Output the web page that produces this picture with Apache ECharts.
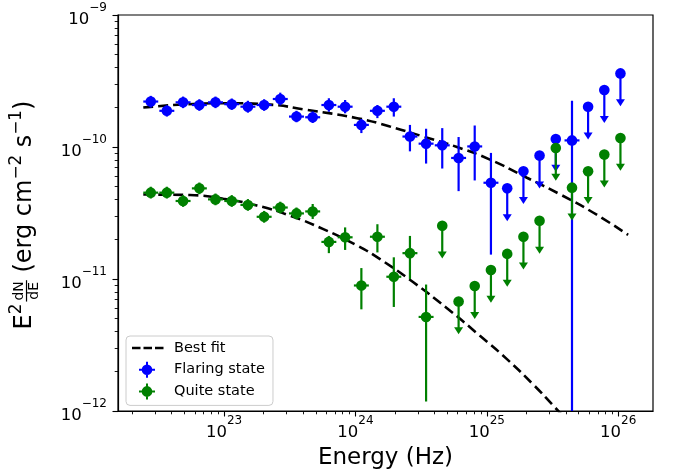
<!DOCTYPE html>
<html>
<head>
<meta charset="utf-8">
<script src="https://cdn.jsdelivr.net/npm/echarts@6/dist/echarts.min.js"></script>
<style>
  html, body { margin: 0; padding: 0; background: #ffffff; }
  #chart { width: 676px; height: 475px; }
</style>
</head>
<body>
<div id="chart"></div>
<script>
// ---- Spectral energy distribution data ----
// Bin centres (Hz), shared by both states
const energy = [
  2.77e22, 3.67e22, 4.88e22, 6.49e22, 8.61e22, 1.145e23, 1.52e23, 2.02e23, 2.68e23, 3.56e23,
  4.73e23, 6.28e23, 8.35e23, 1.11e24, 1.47e24, 1.96e24, 2.60e24, 3.45e24, 4.58e24, 6.10e24,
  8.09e24, 1.075e25, 1.43e25, 1.90e25, 2.52e25, 3.35e25, 4.45e25, 5.90e25, 7.84e25, 1.04e26
];

// Flaring state: E^2 dN/dE, with lower / upper error bounds (null = upper limit)
const flaringFlux = [
  2.21e-10, 1.88e-10, 2.18e-10, 2.08e-10, 2.18e-10, 2.11e-10, 2.02e-10, 2.08e-10, 2.31e-10, 1.70e-10,
  1.68e-10, 2.08e-10, 2.02e-10, 1.47e-10, 1.88e-10, 2.02e-10, 1.20e-10, 1.06e-10, 1.03e-10, 8.26e-11,
  1.01e-10, 5.36e-11, 4.86e-11, 6.55e-11, 8.61e-11, 1.149e-10, 1.122e-10, 2.02e-10, 2.70e-10, 3.61e-10
];
const flaringLo = [
  1.99e-10, 1.70e-10, 1.97e-10, 1.88e-10, 1.97e-10, 1.91e-10, 1.82e-10, 1.88e-10, 2.07e-10, 1.54e-10,
  1.52e-10, 1.85e-10, 1.80e-10, 1.275e-10, 1.655e-10, 1.70e-10, 9.27e-11, 7.49e-11, 6.87e-11, 4.63e-11,
  5.58e-11, 1.53e-11, null, null, null, null, 1e-13, null, null, null
];
const flaringHi = [
  2.44e-10, 2.07e-10, 2.41e-10, 2.30e-10, 2.41e-10, 2.33e-10, 2.24e-10, 2.30e-10, 2.58e-10, 1.88e-10,
  1.86e-10, 2.34e-10, 2.27e-10, 1.63e-10, 2.08e-10, 2.34e-10, 1.47e-10, 1.375e-10, 1.39e-10, 1.19e-10,
  1.455e-10, 9.02e-11, null, null, null, null, 2.245e-10, null, null, null
];

// Quiescent state
const quiteFlux = [
  4.51e-11, 4.51e-11, 3.90e-11, 4.86e-11, 4.01e-11, 3.90e-11, 3.64e-11, 2.96e-11, 3.48e-11, 3.14e-11,
  3.25e-11, 1.91e-11, 2.07e-11, 8.93e-12, 2.09e-11, 1.04e-11, 1.57e-11, 5.16e-12, 2.53e-11, 6.76e-12,
  8.84e-12, 1.17e-11, 1.55e-11, 2.09e-11, 2.76e-11, 9.83e-11, 4.92e-11, 6.55e-11, 8.76e-11, 1.17e-10
];
const quiteLo = [
  4.07e-11, 4.07e-11, 3.52e-11, 4.39e-11, 3.62e-11, 3.52e-11, 3.29e-11, 2.67e-11, 3.14e-11, 2.83e-11,
  2.85e-11, 1.57e-11, 1.66e-11, 5.89e-12, 1.59e-11, 6.14e-12, 1.00e-11, 1.18e-12, null, null,
  null, null, null, null, null, null, null, null, null, null
];
const quiteHi = [
  5.00e-11, 5.00e-11, 4.32e-11, 5.38e-11, 4.44e-11, 4.32e-11, 4.03e-11, 3.28e-11, 3.85e-11, 3.48e-11,
  3.70e-11, 2.12e-11, 2.46e-11, 1.21e-11, 2.60e-11, 1.46e-11, 2.12e-11, 9.08e-12, null, null,
  null, null, null, null, null, null, null, null, null, null
];

// Best-fit model curves
const fitFlaringEnergy = [2.43e22, 4.88e22, 1.11e23, 2.24e23, 4.26e23, 1.03e24, 1.83e24, 3.27e24, 5.93e24, 1.057e25, 2.02e25, 3.61e25, 6.43e25, 1.19e26];
const fitFlaringFlux   = [1.99e-10, 2.10e-10, 2.145e-10, 2.094e-10, 1.91e-10, 1.654e-10, 1.43e-10, 1.202e-10, 1.0e-10, 8.03e-11, 5.85e-11, 4.38e-11, 3.19e-11, 2.16e-11];
const fitQuiteEnergy   = [2.43e22, 5.51e22, 9.88e22, 1.775e23, 3.18e23, 5.70e23, 1.023e24, 1.54e24, 2.76e24, 4.95e24, 8.87e24, 1.416e25, 2.26e25, 3.21e25, 3.98e25];
const fitQuiteFlux     = [4.365e-11, 4.325e-11, 4.055e-11, 3.606e-11, 3.02e-11, 2.388e-11, 1.799e-11, 1.413e-11, 9.44e-12, 6.03e-12, 3.715e-12, 2.483e-12, 1.585e-12, 1.096e-12, 8.71e-13];

// Axis ticks
const xMajorTicks = [1e23, 1e24, 1e25, 1e26];
const xMinorTicks = [
  2e22, 3e22, 4e22, 5e22, 6e22, 7e22, 8e22, 9e22,
  2e23, 3e23, 4e23, 5e23, 6e23, 7e23, 8e23, 9e23,
  2e24, 3e24, 4e24, 5e24, 6e24, 7e24, 8e24, 9e24,
  2e25, 3e25, 4e25, 5e25, 6e25, 7e25, 8e25, 9e25
];
const yMajorTicks = [1e-12, 1e-11, 1e-10, 1e-9];
const yMinorTicks = [
  2e-12, 3e-12, 4e-12, 5e-12, 6e-12, 7e-12, 8e-12, 9e-12,
  2e-11, 3e-11, 4e-11, 5e-11, 6e-11, 7e-11, 8e-11, 9e-11,
  2e-10, 3e-10, 4e-10, 5e-10, 6e-10, 7e-10, 8e-10, 9e-10
];
const X_MIN = 1.56e22, X_MAX = 1.84e26;
const Y_MIN = 1e-12, Y_MAX = 1e-9;

// Upper-limit arrows span a fixed fraction of the flux; energy bars span half a bin
const UL_ARROW_RATIO = 0.564;
const HALF_BIN_FACTOR = 1.14;

const FONT = 'DejaVu Sans';
const BLUE = '#0000ff';
const GREEN = '#008000';

function pointsFor(flux, lo, hi) {
  return energy.map((e, i) => [
    e, flux[i],
    lo[i] == null ? flux[i] : lo[i],
    hi[i] == null ? flux[i] : hi[i],
    lo[i] == null ? 1 : 0
  ]);
}

function renderErrorPoint(params, api) {
  const color = api.visual('color');
  const e = api.value(0), f = api.value(1), lo = api.value(2), hi = api.value(3), ul = api.value(4);
  const c = api.coord([e, f]);
  const lw = 2.2;
  const kids = [];
  if (ul) {
    const tip = api.coord([e, f * UL_ARROW_RATIO]);
    kids.push({ type: 'line', shape: { x1: c[0], y1: c[1], x2: tip[0], y2: tip[1] - 5 },
      style: { stroke: color, lineWidth: lw } });
    kids.push({ type: 'polygon',
      shape: { points: [[tip[0] - 4.5, tip[1] - 7], [tip[0] + 4.5, tip[1] - 7], [tip[0], tip[1]]] },
      style: { fill: color } });
  } else {
    const a = api.coord([e, lo]), b = api.coord([e, hi]);
    const l = api.coord([e / HALF_BIN_FACTOR, f]), r = api.coord([e * HALF_BIN_FACTOR, f]);
    kids.push({ type: 'line', shape: { x1: a[0], y1: a[1], x2: b[0], y2: b[1] },
      style: { stroke: color, lineWidth: lw } });
    kids.push({ type: 'line', shape: { x1: l[0], y1: l[1], x2: r[0], y2: r[1] },
      style: { stroke: color, lineWidth: lw } });
  }
  kids.push({ type: 'circle', shape: { cx: c[0], cy: c[1], r: 5.3 }, style: { fill: color } });
  return { type: 'group', children: kids };
}

function powerLabel(value) {
  const p = Math.round(Math.log10(value));
  return '{b|10}{s|' + (p < 0 ? '\u2212' + (-p) : String(p)) + '}';
}
const powerRich = {
  b: { fontSize: 16.5, fontFamily: FONT, color: '#000', verticalAlign: 'bottom', lineHeight: 26 },
  s: { fontSize: 12, fontFamily: FONT, color: '#000', verticalAlign: 'top', lineHeight: 14 }
};

const axisLineStyle = { color: '#000', width: 1.2 };

// Y-axis title: E^2 dN/dE (erg cm^-2 s^-1), laid out along a rotated group
const measureCtx = document.createElement('canvas').getContext('2d');
function textWidth(str, size) {
  measureCtx.font = size + 'px "' + FONT + '"';
  return measureCtx.measureText(str).width;
}
function buildYTitle(centerX, centerY) {
  const F = 24, S = 16.8, FR = 14;
  const MID = 0.346;           // canvas 'middle' offset above the baseline, in em
  const RISE = 0.42 * F;       // superscript baseline shift
  const kids = [];
  let u = 0;
  function run(str, size, rise) {
    kids.push({ type: 'text', x: u, y: -rise - MID * size,
      style: { text: str, fontSize: size, fontFamily: FONT, fill: '#000', align: 'left', verticalAlign: 'middle' } });
    u += textWidth(str, size);
  }
  run('E', F, 0);
  run('2', S, RISE);
  u += 2;
  const wNum = textWidth('dN', FR), wDen = textWidth('dE', FR);
  const wFrac = Math.max(wNum, wDen) + 2;
  const bar = -0.27 * F;
  kids.push({ type: 'rect', shape: { x: u, y: bar - 0.6, width: wFrac, height: 1.2 }, style: { fill: '#000' } });
  kids.push({ type: 'text', x: u + wFrac / 2, y: bar - 2.5 - MID * FR,
    style: { text: 'dN', fontSize: FR, fontFamily: FONT, fill: '#000', align: 'center', verticalAlign: 'middle' } });
  kids.push({ type: 'text', x: u + wFrac / 2, y: bar + 2.5 + 0.729 * FR - MID * FR,
    style: { text: 'dE', fontSize: FR, fontFamily: FONT, fill: '#000', align: 'center', verticalAlign: 'middle' } });
  u += wFrac;
  run(' (erg cm', F, 0);
  run('\u22122', S, RISE);
  run(' s', F, 0);
  run('\u22121', S, RISE);
  run(')', F, 0);
  return { type: 'group', x: centerX, y: centerY + u / 2, rotation: Math.PI / 2, children: kids, silent: true };
}

const ICON_DASH = 'path://M0,0M37,16M0,6.7h8.5v2.6h-8.5zM11.5,6.7h8.5v2.6h-8.5zM23,6.7h8.5v2.6h-8.5z';
const ICON_MARK = 'path://M0,0M37,16M20.3,8a5.3,5.3 0 1,1 -10.6,0a5.3,5.3 0 1,1 10.6,0zM7,7h16v2h-16zM14,0h2v16h-2z';

const fitLine = { width: 2.6, color: '#000', type: [10, 5] };

const chart = echarts.init(document.getElementById('chart'), null, { renderer: 'canvas' });
chart.setOption({
  animation: false,
  backgroundColor: '#ffffff',
  grid: { left: 118, right: 23, top: 15, bottom: 62, show: true, borderColor: '#000', borderWidth: 1.2, backgroundColor: 'transparent' },
  legend: {
    orient: 'vertical', left: 126, top: 336,
    data: [
      { name: 'Best fit', icon: ICON_DASH },
      { name: 'Flaring state', icon: ICON_MARK },
      { name: 'Quite state', icon: ICON_MARK }
    ],
    itemWidth: 37, itemHeight: 16, itemGap: 5.7,
    padding: [4, 8, 6, 6],
    backgroundColor: 'rgba(255,255,255,0.8)', borderColor: '#cccccc', borderWidth: 1, borderRadius: 4,
    textStyle: { fontSize: 14.5, fontFamily: FONT, color: '#000' },
    itemStyle: { borderWidth: 0 },
    selectedMode: false
  },
  xAxis: [
    {
      type: 'log', logBase: 10, min: X_MIN, max: X_MAX,
      name: 'Energy (Hz)', nameLocation: 'middle', nameGap: 36,
      nameTextStyle: { fontSize: 23, fontFamily: FONT, color: '#000' },
      axisLine: { show: true, onZero: false, lineStyle: axisLineStyle },
      axisTick: { show: true, inside: false, length: 5.5, customValues: xMajorTicks, lineStyle: { color: '#000', width: 1.1 } },
      axisLabel: { show: true, customValues: xMajorTicks, formatter: powerLabel, rich: powerRich, margin: 4 },
      splitLine: { show: false }, minorTick: { show: false }
    },
    {
      type: 'log', logBase: 10, min: X_MIN, max: X_MAX, position: 'bottom',
      axisLine: { show: false },
      axisTick: { show: true, inside: false, length: 3.3, customValues: xMinorTicks, lineStyle: { color: '#000', width: 0.9 } },
      axisLabel: { show: false }, splitLine: { show: false }
    }
  ],
  yAxis: [
    {
      type: 'log', logBase: 10, min: Y_MIN, max: Y_MAX,
      axisLine: { show: true, onZero: false, lineStyle: axisLineStyle },
      axisTick: { show: true, inside: false, length: 5.5, customValues: yMajorTicks, lineStyle: { color: '#000', width: 1.1 } },
      axisLabel: { show: true, customValues: yMajorTicks, formatter: powerLabel, rich: powerRich, margin: 11 },
      splitLine: { show: false }, minorTick: { show: false }
    },
    {
      type: 'log', logBase: 10, min: Y_MIN, max: Y_MAX, position: 'left',
      axisLine: { show: false },
      axisTick: { show: true, inside: false, length: 3.3, customValues: yMinorTicks, lineStyle: { color: '#000', width: 0.9 } },
      axisLabel: { show: false }, splitLine: { show: false }
    }
  ],
  graphic: [buildYTitle(33, 215)],
  series: [
    {
      name: 'Best fit', type: 'line', xAxisIndex: 0, yAxisIndex: 0,
      data: fitFlaringEnergy.map((e, i) => [e, fitFlaringFlux[i]]),
      smooth: true, symbol: 'none', clip: true, z: 2,
      lineStyle: fitLine, itemStyle: { color: '#000' }
    },
    {
      name: 'Best fit', type: 'line', xAxisIndex: 0, yAxisIndex: 0,
      data: fitQuiteEnergy.map((e, i) => [e, fitQuiteFlux[i]]),
      smooth: true, symbol: 'none', clip: true, z: 2,
      lineStyle: fitLine, itemStyle: { color: '#000' }
    },
    {
      name: 'Flaring state', type: 'custom', xAxisIndex: 0, yAxisIndex: 0,
      data: pointsFor(flaringFlux, flaringLo, flaringHi),
      encode: { x: 0, y: 1 }, renderItem: renderErrorPoint, clip: true, z: 3,
      itemStyle: { color: BLUE }
    },
    {
      name: 'Quite state', type: 'custom', xAxisIndex: 0, yAxisIndex: 0,
      data: pointsFor(quiteFlux, quiteLo, quiteHi),
      encode: { x: 0, y: 1 }, renderItem: renderErrorPoint, clip: true, z: 4,
      itemStyle: { color: GREEN }
    }
  ]
});
</script>
</body>
</html>
